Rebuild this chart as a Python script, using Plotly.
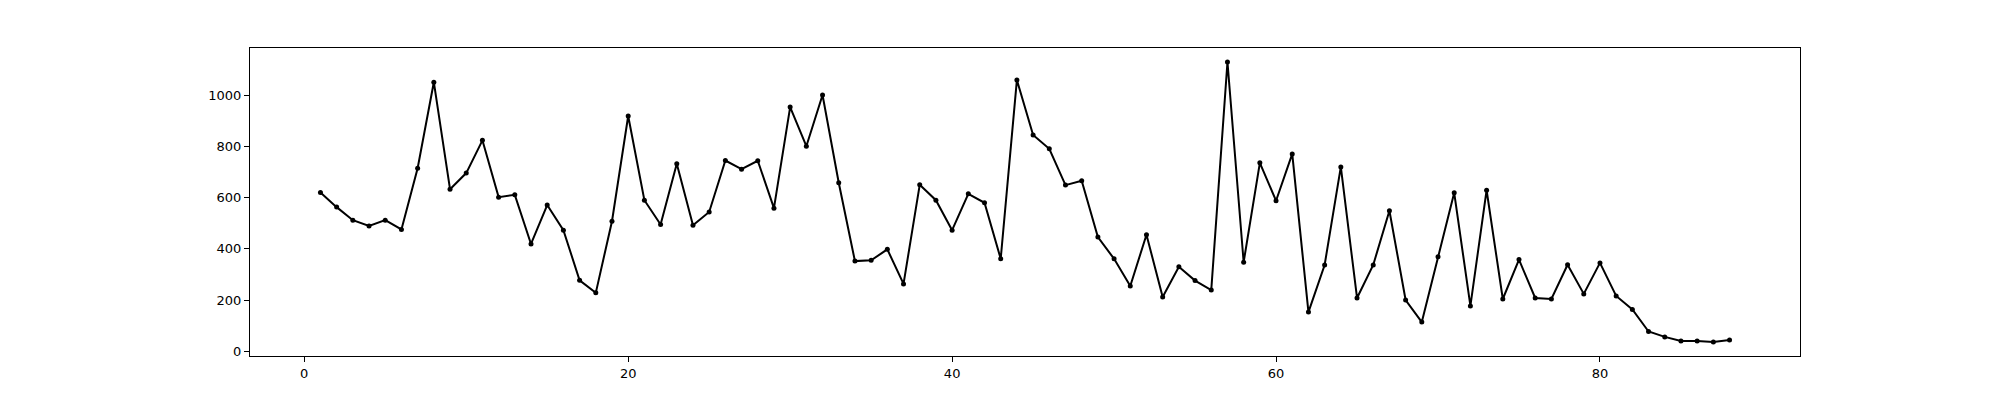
import plotly.graph_objects as go

# index 1..88 and the plotted counts
xs = list(range(1, 89))
counts = [620, 563, 512, 489, 512, 476, 715, 1051, 633, 696,
          824, 602, 611, 419, 571, 473, 277, 228, 508, 919,
          590, 495, 732, 492, 544, 745, 711, 744, 559, 954,
          801, 1001, 658, 352, 355, 398, 263, 650, 590, 473,
          615, 580, 361, 1060, 845, 791, 649, 666, 446, 361,
          255, 455, 212, 330, 276, 239, 1130, 348, 736, 588,
          771, 153, 337, 720, 208, 337, 549, 200, 114, 369,
          619, 177, 629, 204, 358, 208, 204, 338, 224, 345,
          216, 163, 77, 56, 40, 40, 36, 44]

xticks = [0, 20, 40, 60, 80]
yticks = [0, 200, 400, 600, 800, 1000]

fig = go.Figure()
fig.add_trace(go.Scatter(x=xs, y=counts, mode='lines+markers',
                         line=dict(color='black', width=2),
                         marker=dict(color='black', size=5)))

# matplotlib-style 5% margins
xpad = (max(xs) - min(xs)) * 0.05
ypad = (max(counts) - min(counts)) * 0.05

axis_style = dict(showline=True, linecolor='black', linewidth=1.3, mirror=True,
                  ticks='outside', ticklen=5, tickwidth=1.1, tickcolor='black',
                  showgrid=False, zeroline=False,
                  tickfont=dict(family='DejaVu Sans', size=13, color='black'))

fig.update_xaxes(range=[min(xs) - xpad, max(xs) + xpad], tickvals=xticks, **axis_style)
fig.update_yaxes(range=[min(counts) - ypad, max(counts) + ypad], tickvals=yticks, **axis_style)

# page body has an 8px margin, so the figure is shrunk and shifted to compensate
fig.update_layout(width=1984, height=384,
                  margin=dict(l=242, r=192, t=40, b=36),
                  plot_bgcolor='white', paper_bgcolor='white',
                  showlegend=False)

fig.write_html("out.html")
